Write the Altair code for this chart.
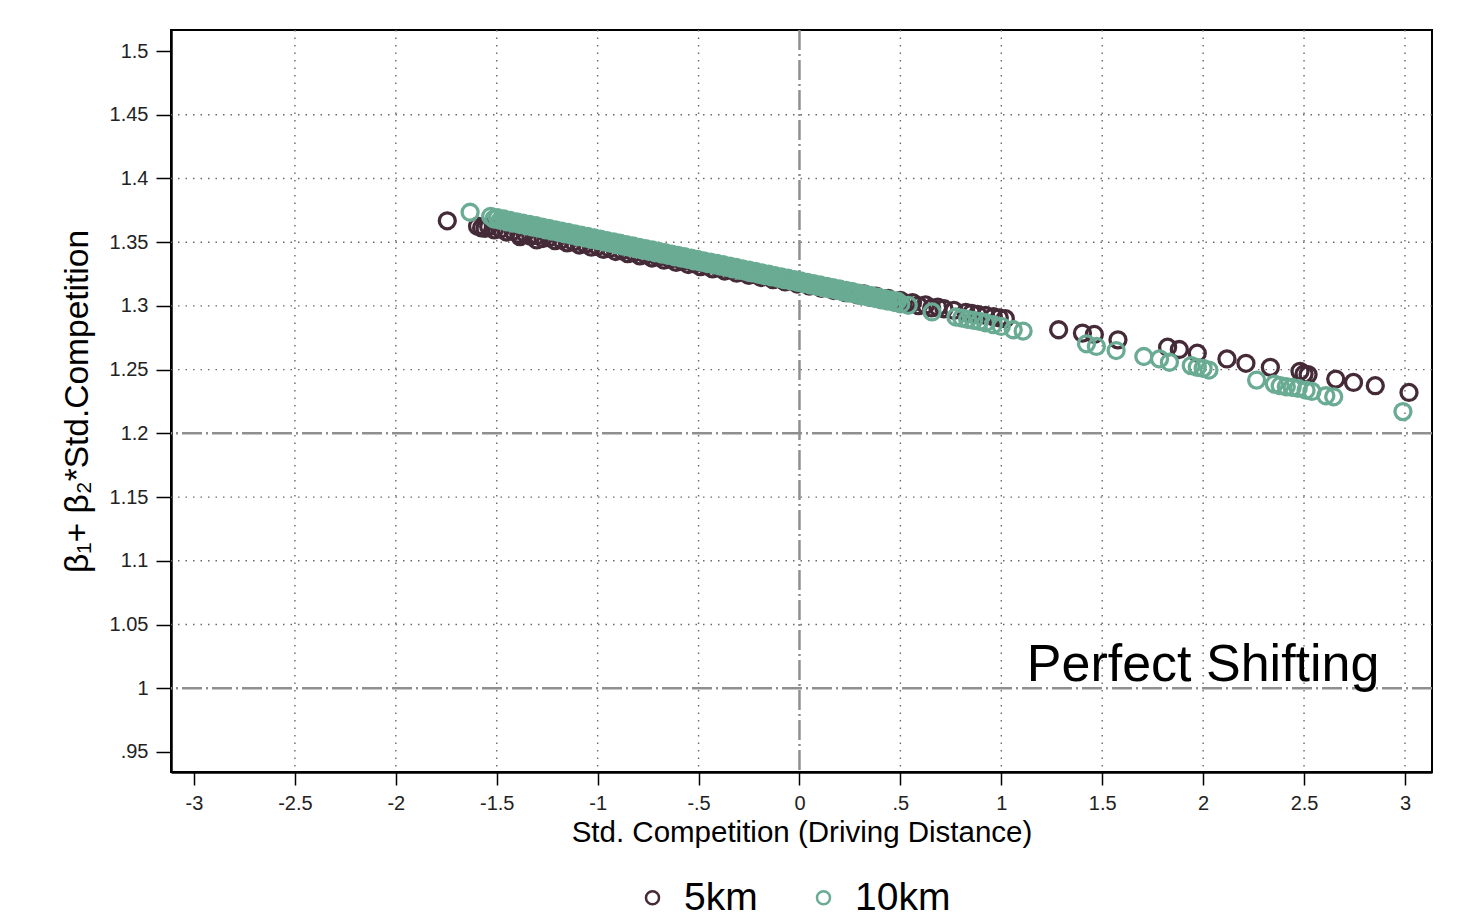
import json
import altair as alt
import pandas as pd

# ---------------- data ----------------
series_names = ["5km", "10km"]
series_colors = ["#452a38", "#6aab94"]

km5_x = [
    -1.745, -1.595, -1.575, -1.558, -1.385, -1.302,
    -1.540, -1.512, -1.481, -1.452, -1.420, -1.391, -1.360, -1.331, -1.300, -1.271,
    -1.240, -1.211, -1.180, -1.151, -1.120, -1.091, -1.060, -1.031, -1.000, -0.971,
    -0.940, -0.911, -0.880, -0.851, -0.820, -0.791, -0.760, -0.731, -0.700, -0.671,
    -0.640, -0.611, -0.580, -0.551, -0.520, -0.491, -0.460, -0.431, -0.400, -0.371,
    -0.340, -0.311, -0.280, -0.251, -0.220, -0.191, -0.160, -0.131, -0.100, -0.071,
    -0.040, -0.011, 0.020, 0.049, 0.080, 0.109, 0.140, 0.169, 0.200, 0.229,
    0.260, 0.289, 0.320, 0.349, 0.380, 0.409, 0.440, 0.469, 0.500, 0.529,
    0.560, 0.590, 0.625, 0.655, 0.685,
    0.716, 0.765, 0.824, 0.853, 0.882, 0.922, 0.961, 0.990, 1.020,
    1.284, 1.402, 1.461, 1.578, 1.824, 1.882, 1.971, 2.118, 2.212, 2.333,
    2.480, 2.500, 2.520, 2.657, 2.745, 2.853, 3.020,
]
km5_y = [
    1.3668, 1.3625, 1.3612, 1.3608, 1.3544, 1.3518,
    1.3621, 1.3597, 1.3604, 1.3580, 1.3587, 1.3563, 1.3570, 1.3546, 1.3553, 1.3529,
    1.3536, 1.3512, 1.3519, 1.3495, 1.3502, 1.3478, 1.3485, 1.3461, 1.3468, 1.3444,
    1.3451, 1.3427, 1.3434, 1.3410, 1.3417, 1.3393, 1.3400, 1.3376, 1.3383, 1.3359,
    1.3366, 1.3342, 1.3349, 1.3325, 1.3332, 1.3308, 1.3315, 1.3291, 1.3298, 1.3274,
    1.3281, 1.3257, 1.3264, 1.3240, 1.3247, 1.3223, 1.3230, 1.3206, 1.3213, 1.3189,
    1.3196, 1.3172, 1.3179, 1.3155, 1.3162, 1.3138, 1.3145, 1.3121, 1.3128, 1.3104,
    1.3111, 1.3087, 1.3094, 1.3070, 1.3077, 1.3053, 1.3060, 1.3036, 1.3043, 1.3019,
    1.3026, 1.3002, 1.3008, 1.2984, 1.2991,
    1.2978, 1.2965, 1.2950, 1.2942, 1.2934, 1.2925, 1.2915, 1.2907, 1.2900,
    1.2813, 1.2787, 1.2776, 1.2734, 1.2676, 1.2658, 1.2629, 1.2584, 1.2550, 1.2518,
    1.2487, 1.2466, 1.2461, 1.2426, 1.2400, 1.2374, 1.2321,
]

km10_x = [
    -1.632,
    -1.530, -1.514, -1.497, -1.482, -1.466, -1.449, -1.434, -1.418, -1.401, -1.386,
    -1.370, -1.353, -1.338, -1.322, -1.305, -1.290, -1.274, -1.257, -1.242, -1.226,
    -1.209, -1.194, -1.178, -1.161, -1.146, -1.130, -1.113, -1.098, -1.082, -1.065,
    -1.050, -1.034, -1.017, -1.002, -0.986, -0.969, -0.954, -0.938, -0.921, -0.906,
    -0.890, -0.873, -0.858, -0.842, -0.825, -0.810, -0.794, -0.777, -0.762, -0.746,
    -0.729, -0.714, -0.698, -0.681, -0.666, -0.650, -0.633, -0.618, -0.602, -0.585,
    -0.570, -0.554, -0.537, -0.522, -0.506, -0.489, -0.474, -0.458, -0.441, -0.426,
    -0.410, -0.393, -0.378, -0.362, -0.345, -0.330, -0.314, -0.297, -0.282, -0.266,
    -0.249, -0.234, -0.218, -0.201, -0.186, -0.170, -0.153, -0.138, -0.122, -0.105,
    -0.090, -0.074, -0.057, -0.042, -0.026, -0.009, 0.006, 0.022, 0.039, 0.054,
    0.070, 0.087, 0.102, 0.118, 0.135, 0.150, 0.166, 0.183, 0.198, 0.214,
    0.231, 0.246, 0.262, 0.279, 0.294, 0.310, 0.327, 0.342, 0.358, 0.375,
    0.390, 0.406, 0.423, 0.438, 0.454, 0.471, 0.486, 0.502,
    0.539, 0.657, 0.775, 0.804, 0.833, 0.863, 0.892, 0.922, 0.961, 1.000,
    1.059, 1.108, 1.422, 1.471, 1.569, 1.706, 1.784, 1.833, 1.941, 1.971,
    2.000, 2.029, 2.265, 2.353, 2.382, 2.412, 2.441, 2.471, 2.510, 2.539,
    2.608, 2.647, 2.990,
]
km10_y = [
    1.3735,
    1.3703, 1.3682, 1.3692, 1.3671, 1.3682, 1.3660, 1.3671, 1.3650, 1.3660, 1.3639,
    1.3650, 1.3629, 1.3640, 1.3618, 1.3629, 1.3608, 1.3618, 1.3597, 1.3608, 1.3587,
    1.3597, 1.3576, 1.3587, 1.3565, 1.3576, 1.3555, 1.3565, 1.3544, 1.3555, 1.3534,
    1.3545, 1.3523, 1.3534, 1.3513, 1.3523, 1.3502, 1.3513, 1.3492, 1.3502, 1.3481,
    1.3492, 1.3470, 1.3481, 1.3460, 1.3470, 1.3449, 1.3460, 1.3438, 1.3449, 1.3428,
    1.3439, 1.3418, 1.3428, 1.3407, 1.3418, 1.3397, 1.3407, 1.3386, 1.3397, 1.3375,
    1.3386, 1.3365, 1.3375, 1.3354, 1.3365, 1.3343, 1.3354, 1.3333, 1.3344, 1.3323,
    1.3333, 1.3312, 1.3323, 1.3302, 1.3312, 1.3291, 1.3302, 1.3280, 1.3291, 1.3270,
    1.3280, 1.3259, 1.3270, 1.3248, 1.3259, 1.3238, 1.3249, 1.3228, 1.3238, 1.3217,
    1.3228, 1.3206, 1.3217, 1.3196, 1.3207, 1.3185, 1.3196, 1.3175, 1.3185, 1.3164,
    1.3175, 1.3153, 1.3164, 1.3143, 1.3153, 1.3133, 1.3143, 1.3122, 1.3133, 1.3111,
    1.3122, 1.3101, 1.3112, 1.3090, 1.3101, 1.3080, 1.3090, 1.3069, 1.3080, 1.3058,
    1.3069, 1.3048, 1.3058, 1.3038, 1.3048, 1.3027, 1.3037, 1.3016,
    1.3005, 1.2953, 1.2913, 1.2905, 1.2895, 1.2887, 1.2879, 1.2868, 1.2853, 1.2839,
    1.2813, 1.2803, 1.2703, 1.2682, 1.2650, 1.2603, 1.2584, 1.2558, 1.2532, 1.2518,
    1.2510, 1.2497, 1.2418, 1.2387, 1.2374, 1.2366, 1.2361, 1.2353, 1.2339, 1.2329,
    1.2295, 1.2287, 1.2171,
]

x_ticks = [-3, -2.5, -2, -1.5, -1, -0.5, 0, 0.5, 1, 1.5, 2, 2.5, 3]
x_tick_labels = ["-3", "-2.5", "-2", "-1.5", "-1", "-.5", "0", ".5", "1", "1.5", "2", "2.5", "3"]
y_ticks = [0.95, 1, 1.05, 1.1, 1.15, 1.2, 1.25, 1.3, 1.35, 1.4, 1.45, 1.5]
y_tick_labels = [".95", "1", "1.05", "1.1", "1.15", "1.2", "1.25", "1.3", "1.35", "1.4", "1.45", "1.5"]
x_grid = [-2.5, -2, -1.5, -1, -0.5, 0.5, 1, 1.5, 2, 2.5, 3]
y_grid = [1.05, 1.1, 1.15, 1.25, 1.3, 1.35, 1.4, 1.45]
x_ref = [0]
y_ref = [1.0, 1.2]
note_text = ["Perfect Shifting"]
note_x = [2.0]
note_y = [1.006]

x_title = "Std. Competition (Driving Distance)"
y_title = "β₁+ β₂*Std.Competition"

# ---------------- chart ----------------
FONT = "Liberation Sans, Arial, sans-serif"

points = pd.concat([
    pd.DataFrame({"x": km5_x, "y": km5_y, "series": series_names[0]}),
    pd.DataFrame({"x": km10_x, "y": km10_y, "series": series_names[1]}),
], ignore_index=True)

xs = alt.Scale(domain=[-3.114, 3.134], nice=False, zero=False)
ys = alt.Scale(domain=[0.9343, 1.5165], nice=False, zero=False)

x_expr = f"{json.dumps(x_tick_labels)}[indexof({json.dumps(x_ticks)}, datum.value)]"
y_expr = f"{json.dumps(y_tick_labels)}[indexof({json.dumps(y_ticks)}, datum.value)]"

x_axis = alt.Axis(
    values=x_ticks, labelExpr=x_expr, grid=False,
    domain=True, domainColor="black", domainWidth=2.5,
    ticks=True, tickColor="black", tickWidth=1.5, tickSize=13,
    labelFont=FONT, labelFontSize=20, labelColor="#222222", labelPadding=8,
    labelFlush=False, labelOverlap=False,
    title=x_title, titleFont=FONT, titleFontSize=29.5, titleFontWeight="normal",
    titleColor="black", titlePadding=5,
)
y_axis = alt.Axis(
    values=y_ticks, labelExpr=y_expr, grid=False,
    domain=True, domainColor="black", domainWidth=2.5,
    ticks=True, tickColor="black", tickWidth=1.5, tickSize=15,
    labelFont=FONT, labelFontSize=20, labelColor="#222222", labelPadding=8,
    labelFlush=False, labelOverlap=False,
    title=y_title, titleFont=FONT, titleFontSize=33.5, titleFontWeight="normal",
    titleColor="black", titlePadding=15,
)

X = alt.X("x:Q", scale=xs, axis=x_axis)
Y = alt.Y("y:Q", scale=ys, axis=y_axis)

grid_v = alt.Chart(pd.DataFrame({"x": x_grid})).mark_rule(
    color="#6a6a6a", strokeWidth=1.4, strokeDash=[1.5, 6]
).encode(x=X)
grid_h = alt.Chart(pd.DataFrame({"y": y_grid})).mark_rule(
    color="#6a6a6a", strokeWidth=1.4, strokeDash=[1.5, 6]
).encode(y=Y)
ref_v = alt.Chart(pd.DataFrame({"x": x_ref})).mark_rule(
    color="#8f8f8f", strokeWidth=2.5, strokeDash=[20, 4, 2, 4]
).encode(x=X)
ref_h = alt.Chart(pd.DataFrame({"y": y_ref})).mark_rule(
    color="#8f8f8f", strokeWidth=2.5, strokeDash=[20, 4, 2, 4]
).encode(y=Y)

scatter = alt.Chart(points).mark_point(
    shape="circle", filled=False, size=256, strokeWidth=3.3, opacity=1
).encode(
    x=X, y=Y,
    color=alt.Color(
        "series:N",
        scale=alt.Scale(domain=series_names, range=series_colors),
        legend=alt.Legend(
            orient="none", legendX=462, legendY=848, direction="horizontal",
            columns=2, title=None, padding=0,
            labelFont=FONT, labelFontSize=39, labelColor="black",
            symbolType="circle", symbolSize=170, symbolStrokeWidth=2.5,
            labelOffset=12, columnPadding=46, labelLimit=0,
        ),
    ),
)

note = alt.Chart(pd.DataFrame({"x": note_x, "y": note_y, "t": note_text})).mark_text(
    font=FONT, fontSize=52, align="center", baseline="alphabetic", color="black"
).encode(x=X, y=Y, text="t:N")

chart = alt.layer(grid_v, grid_h, ref_v, ref_h, scatter, note).properties(
    width=1261, height=742,
    autosize=alt.AutoSizeParams(type="none"),
    padding={"left": 171, "top": 30, "right": 40, "bottom": 150},
    background="white",
).configure_view(stroke="black", strokeWidth=2)

chart.save("out.html", embed_options={"renderer": "svg", "actions": False})
